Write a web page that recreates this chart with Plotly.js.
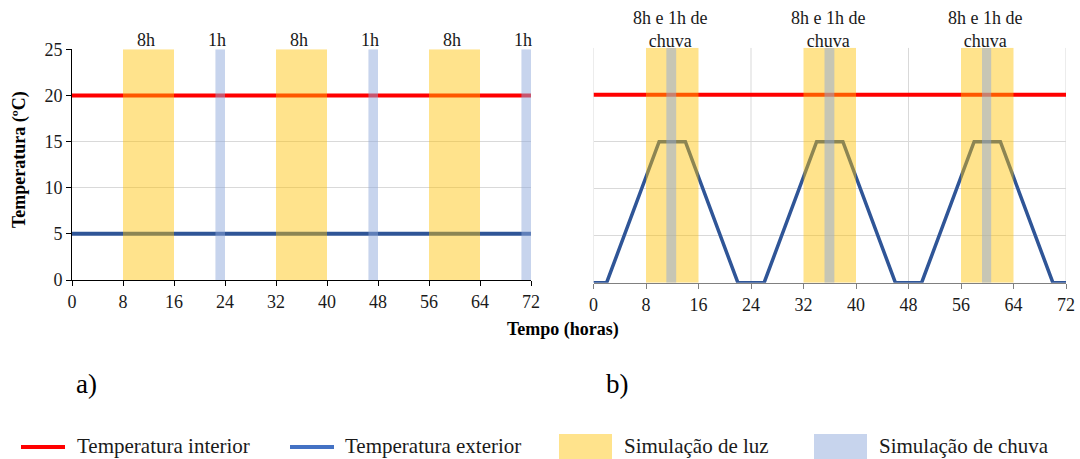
<!DOCTYPE html>
<html>
<head>
<meta charset="utf-8">
<script src="https://cdn.plot.ly/plotly-3.0.1.min.js"></script>
<style>
  html, body { margin: 0; padding: 0; background: #fff; }
  #chart { width: 1080px; height: 459px; }
  #chart .xtick text, #chart .ytick text, #chart .x2tick text { font-family: 'Liberation Serif' !important; }
</style>
</head>
<body>
<div id="chart"></div>
<script>
// Time axis (hours) and temperature series
const hoursFull = [0, 72];
const interiorTemp = [20, 20];
const exteriorTempA = [5, 5];

const exteriorHoursB = [0, 2, 10, 14, 22, 26, 34, 38, 46, 50, 58, 62, 70, 72];
const exteriorTempB  = [0, 0, 15, 15, 0, 0, 15, 15, 0, 0, 15, 15, 0, 0];

// Light periods (8 h per day)
const lightStart = [8, 32, 56];
const lightEnd   = [16, 40, 64];

// Rain periods
const rainStartA = [22.5, 46.5, 70.5];
const rainEndA   = [24, 48, 72];
const rainStartB = [11.1, 35.2, 59.2];
const rainEndB   = [12.6, 36.7, 60.6];

// Period labels
const lightLabelA = ['8h', '8h', '8h'];
const lightLabelPosA = [12, 36, 60];
const rainLabelA = ['1h', '1h', '1h'];
const rainLabelPosA = [23.25, 47.25, 71.25];
const labelB = ['8h e 1h de<br>chuva', '8h e 1h de<br>chuva', '8h e 1h de<br>chuva'];
const labelPosB = [12, 36, 60];

const xTicks = [0, 8, 16, 24, 32, 40, 48, 56, 64, 72];
const yTicks = [0, 5, 10, 15, 20, 25];
const dayGridB = [0, 24, 48, 72];

const legendNames = ['Temperatura interior', 'Temperatura exterior', 'Simulação de luz', 'Simulação de chuva'];

const SERIF = 'Liberation Serif';
const RED = '#ff0000';
const BLUE = '#2f5597';
const LIGHT_FILL = '#ffc000';
const RAIN_FILL = '#8faadc';

const traces = [
  { x: hoursFull, y: interiorTemp, xaxis: 'x', yaxis: 'y', mode: 'lines',
    line: { color: RED, width: 4 }, showlegend: false, hoverinfo: 'skip' },
  { x: hoursFull, y: exteriorTempA, xaxis: 'x', yaxis: 'y', mode: 'lines',
    line: { color: BLUE, width: 4 }, showlegend: false, hoverinfo: 'skip' },
  { x: hoursFull, y: interiorTemp, xaxis: 'x2', yaxis: 'y2', mode: 'lines',
    line: { color: RED, width: 4 }, showlegend: false, hoverinfo: 'skip' },
  { x: exteriorHoursB, y: exteriorTempB, xaxis: 'x2', yaxis: 'y2', mode: 'lines',
    line: { color: BLUE, width: 3.5 }, showlegend: false, hoverinfo: 'skip' }
];

const shapes = [];
// daily gridlines on panel b
dayGridB.forEach(v => shapes.push({
  type: 'line', xref: 'x2', yref: 'y2', x0: v, x1: v, y0: 0, y1: 25,
  line: { color: '#d9d9d9', width: 1 }, layer: 'below'
}));
// translucent period bands drawn over the lines
function bands(starts, ends, xref, yref, color, op) {
  starts.forEach((s, i) => shapes.push({
    type: 'rect', xref: xref, yref: yref, x0: s, x1: ends[i], y0: 0, y1: 25,
    fillcolor: color, opacity: op, line: { width: 0 }, layer: 'above'
  }));
}
bands(lightStart, lightEnd, 'x', 'y', LIGHT_FILL, 0.45);
bands(rainStartA, rainEndA, 'x', 'y', RAIN_FILL, 0.5);
bands(lightStart, lightEnd, 'x2', 'y2', LIGHT_FILL, 0.45);
bands(rainStartB, rainEndB, 'x2', 'y2', RAIN_FILL, 0.5);

// legend swatches (paper coordinates)
const W = 1080, H = 459;
const px = v => v / W, py = v => 1 - v / H;
shapes.push({ type: 'line', xref: 'paper', yref: 'paper', x0: px(21), x1: px(65), y0: py(447), y1: py(447),
  line: { color: RED, width: 4 } });
shapes.push({ type: 'line', xref: 'paper', yref: 'paper', x0: px(290), x1: px(334), y0: py(447), y1: py(447),
  line: { color: '#4472c4', width: 4 } });
shapes.push({ type: 'rect', xref: 'paper', yref: 'paper', x0: px(559), x1: px(612), y0: py(459), y1: py(434),
  fillcolor: LIGHT_FILL, opacity: 0.45, line: { width: 0 } });
shapes.push({ type: 'rect', xref: 'paper', yref: 'paper', x0: px(814), x1: px(867), y0: py(459), y1: py(434),
  fillcolor: RAIN_FILL, opacity: 0.5, line: { width: 0 } });

const annotations = [];
function note(o) {
  annotations.push(Object.assign({ showarrow: false, xanchor: 'center', yanchor: 'middle' }, o));
}
lightLabelA.forEach((t, i) => note({
  text: t, x: lightLabelPosA[i], xref: 'x', y: py(40), yref: 'paper', xshift: -3,
  font: { family: SERIF, size: 18, color: '#1a1a1a' }
}));
rainLabelA.forEach((t, i) => note({
  text: t, x: rainLabelPosA[i], xref: 'x', y: py(40), yref: 'paper', xshift: -3,
  font: { family: SERIF, size: 18, color: '#1a1a1a' }
}));
labelB.forEach((t, i) => note({
  text: t, x: labelPosB[i], xref: 'x2', y: py(30), yref: 'paper', xshift: -2,
  font: { family: SERIF, size: 18, color: '#1a1a1a' }
}));
// axis titles
note({ text: '<b>Temperatura (ºC)</b>', textangle: -90, xref: 'paper', yref: 'paper',
  x: px(19), y: py(160), font: { family: SERIF, size: 18, color: '#000' } });
note({ text: '<b>Tempo (horas)</b>', xref: 'paper', yref: 'paper',
  x: px(563), y: py(329), font: { family: SERIF, size: 18, color: '#000' } });
// panel letters
note({ text: 'a)', xref: 'paper', yref: 'paper', x: px(86), y: py(384),
  font: { family: SERIF, size: 27, color: '#000' } });
note({ text: 'b)', xref: 'paper', yref: 'paper', x: px(617), y: py(384),
  font: { family: SERIF, size: 27, color: '#000' } });
// legend labels
const legendTextX = [75, 343, 622, 877];
legendNames.forEach((t, i) => note({
  text: t, xref: 'paper', yref: 'paper', x: px(legendTextX[i]), y: py(446), xanchor: 'left',
  font: { family: SERIF, size: 21, color: '#1a1a1a' }
}));

const tickFont = { family: SERIF, size: 18, color: '#1a1a1a' };

const layout = {
  width: W, height: H,
  margin: { l: 0, r: 0, t: 0, b: 0 },
  paper_bgcolor: '#fff', plot_bgcolor: '#fff',
  showlegend: false,
  font: { family: SERIF },
  xaxis: {
    domain: [px(72), px(531)], range: [0, 72], tickvals: xTicks, ticktext: xTicks.map(String),
    showgrid: false, zeroline: false, showline: true, linecolor: '#000', linewidth: 1,
    ticks: 'outside', ticklen: 5, tickcolor: '#000', tickfont: tickFont, anchor: 'y', fixedrange: true
  },
  yaxis: {
    domain: [1 - 280 / H, 1 - 49.3 / H], range: [0, 25], tickvals: yTicks,
    showgrid: true, gridcolor: '#d9d9d9', gridwidth: 1, zeroline: false,
    showline: true, linecolor: '#000', linewidth: 1,
    ticks: 'outside', ticklen: 5, tickcolor: '#000', tickfont: tickFont, anchor: 'x', fixedrange: true
  },
  xaxis2: {
    domain: [px(593.5), px(1066)], range: [0, 72], tickvals: xTicks, ticktext: xTicks.map(String),
    showgrid: false, zeroline: false, showline: true, linecolor: '#808080', linewidth: 1.5,
    ticks: 'outside', ticklen: 5, tickcolor: '#808080', tickfont: tickFont, anchor: 'y2', fixedrange: true
  },
  yaxis2: {
    domain: [1 - 282.7 / H, 1 - 47.7 / H], range: [0, 25], tickvals: yTicks,
    showgrid: true, gridcolor: '#d9d9d9', gridwidth: 1, zeroline: false,
    showline: false, showticklabels: false, ticks: '', anchor: 'x2', fixedrange: true
  },
  shapes: shapes,
  annotations: annotations
};

Plotly.newPlot('chart', traces, layout, { displayModeBar: false, staticPlot: true });
</script>
</body>
</html>
